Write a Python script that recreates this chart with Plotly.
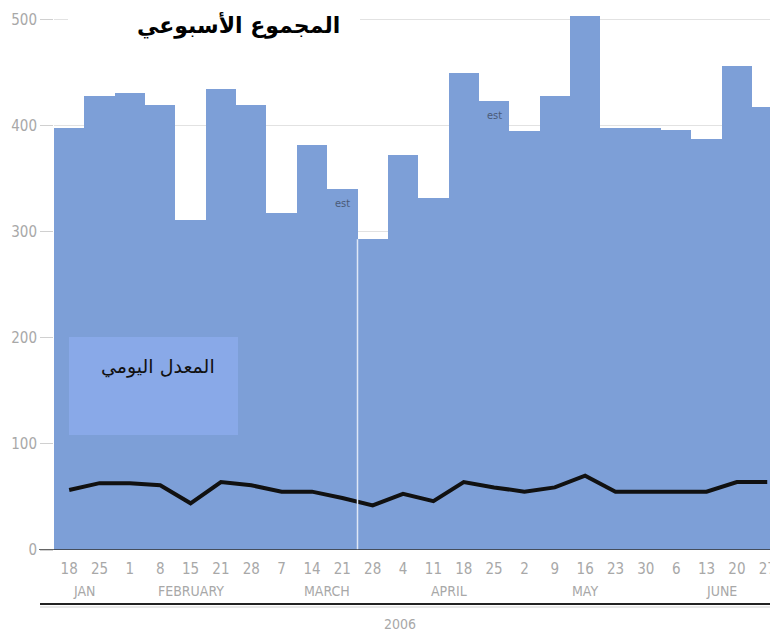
import plotly.graph_objects as go

# ---- data ----
day_labels = ["18", "25", "1", "8", "15", "21", "28", "7", "14", "21", "28", "4",
              "11", "18", "25", "2", "9", "16", "23", "30", "6", "13", "20", "27"]
month_of_bar = ["JAN", "JAN", "FEBRUARY", "FEBRUARY", "FEBRUARY", "FEBRUARY", "FEBRUARY",
                "MARCH", "MARCH", "MARCH", "MARCH", "APRIL", "APRIL", "APRIL", "APRIL",
                "MAY", "MAY", "MAY", "MAY", "MAY", "JUNE", "JUNE", "JUNE", "JUNE"]
weekly_total = [398, 428, 431, 419, 311, 445, 419, 318, 382, 340, 293, 372,
                332, 450, 423, 395, 428, 503, 398, 398, 396, 387, 456, 418]
daily_average = [56.5, 63, 63, 61, 44, 64, 61, 55, 55, 49, 42, 53,
                 46, 64, 59, 55, 59, 70, 55, 55, 55, 55, 64, 64]
est_bars = [9, 14]
year_label = "2006"
title_text = "المجموع الأسبوعي"
legend_text = "المعدل اليومي"
y_ticks = [0, 100, 200, 300, 400, 500]

# ---- layout constants (page has an 8px body margin) ----
OFF = 8
W, H = 778 - OFF, 635 - OFF
ML, MR, MT, MB = 54 - OFF, 0, 0, 85
PW = W - ML - MR
PH = H - MT - MB
px_per_bar = 30.35
px_per_unit = 1.061
NARROW = "DejaVu Sans Condensed, Liberation Sans Narrow, sans-serif"
AXIS_GREY = "#a8a8a8"

def px_x(p):
    return (p - OFF - ML) / PW

def px_y(p):
    return 1 - (p - OFF - MT) / PH

xs = list(range(len(weekly_total)))

fig = go.Figure()
fig.add_trace(go.Bar(x=xs, y=weekly_total, marker=dict(color="#7d9fd7", line=dict(width=0)),
                     width=1.0, hoverinfo="y"))
fig.add_trace(go.Scatter(x=xs, y=daily_average, mode="lines",
                         line=dict(color="#111111", width=4, shape="linear")))

shapes = []
# white cover behind title
shapes.append(dict(type="rect", xref="paper", yref="paper", x0=px_x(68), x1=px_x(360),
                   y0=px_y(89), y1=1.02, fillcolor="white", line=dict(width=0), layer="above"))
# legend-like box
shapes.append(dict(type="rect", xref="paper", yref="paper", x0=px_x(69), x1=px_x(238),
                   y0=px_y(435), y1=px_y(337), fillcolor="#89a9e8", line=dict(width=0), layer="above"))
# white separator line between bars 10 and 11
shapes.append(dict(type="line", xref="x", yref="y", x0=9.5, x1=9.5, y0=0,
                   y1=min(weekly_total[9], weekly_total[10]),
                   line=dict(color="#dfe7f6", width=1.5), layer="above"))
# baseline axis line
shapes.append(dict(type="line", xref="paper", yref="y", x0=px_x(39), x1=1, y0=0, y1=0,
                   line=dict(color="#333333", width=1.5), layer="above"))
# lower rule under month labels
shapes.append(dict(type="line", xref="paper", yref="paper", x0=px_x(40), x1=1,
                   y0=px_y(604), y1=px_y(604), line=dict(color="#222222", width=2)))
shapes.append(dict(type="line", xref="paper", yref="paper", x0=px_x(40), x1=1,
                   y0=px_y(607), y1=px_y(607), line=dict(color="#d0d0d0", width=1)))

annotations = []
annotations.append(dict(text=f"<b>{title_text}</b>", xref="paper", yref="paper",
                        x=px_x(238), y=px_y(25), xanchor="center", yanchor="middle",
                        showarrow=False,
                        font=dict(family="DejaVu Sans", size=22, color="#000000")))
annotations.append(dict(text=legend_text, xref="paper", yref="paper",
                        x=px_x(158), y=px_y(366), xanchor="center", yanchor="middle",
                        showarrow=False,
                        font=dict(family="DejaVu Sans", size=19, color="#111111")))
for i in est_bars:
    annotations.append(dict(text="est", x=xs[i], y=weekly_total[i], xref="x", yref="y",
                            yshift=-14, showarrow=False, xanchor="center", yanchor="middle",
                            font=dict(family=NARROW, size=11, color="#4a5a78")))
# month labels centred on their bars
months = []
for m in month_of_bar:
    if m not in months:
        months.append(m)
for m in months:
    idx = [i for i, mm in enumerate(month_of_bar) if mm == m]
    cx = sum(idx) / len(idx)
    annotations.append(dict(text=m, x=cx, xref="x", yref="paper", y=px_y(591),
                            xanchor="center", yanchor="middle", showarrow=False,
                            font=dict(family=NARROW, size=14, color=AXIS_GREY)))
annotations.append(dict(text=year_label, xref="paper", yref="paper", x=px_x(400), y=px_y(624),
                        xanchor="center", yanchor="middle", showarrow=False,
                        font=dict(family=NARROW, size=14, color=AXIS_GREY)))

fig.update_layout(
    width=W, height=H,
    margin=dict(l=ML, r=MR, t=MT, b=MB, pad=0, autoexpand=False),
    paper_bgcolor="white", plot_bgcolor="white",
    showlegend=False, bargap=0,
    shapes=shapes, annotations=annotations,
    xaxis=dict(range=[-0.5, -0.5 + PW / px_per_bar], tickmode="array", tickvals=xs,
               ticktext=day_labels, showgrid=False, zeroline=False, showline=False,
               automargin=False, ticks="outside", ticklen=5, tickcolor="rgba(0,0,0,0)",
               tickfont=dict(family=NARROW, size=15, color=AXIS_GREY)),
    yaxis=dict(range=[0, PH / px_per_unit], tickmode="array", tickvals=y_ticks,
               showgrid=True, gridcolor="#e2e2e2", gridwidth=1, zeroline=False,
               showline=False, automargin=False, ticks="outside", ticklen=13,
               tickcolor="#d0d0d0",
               tickfont=dict(family=NARROW, size=15, color=AXIS_GREY)),
)

fig.write_html("out.html")
